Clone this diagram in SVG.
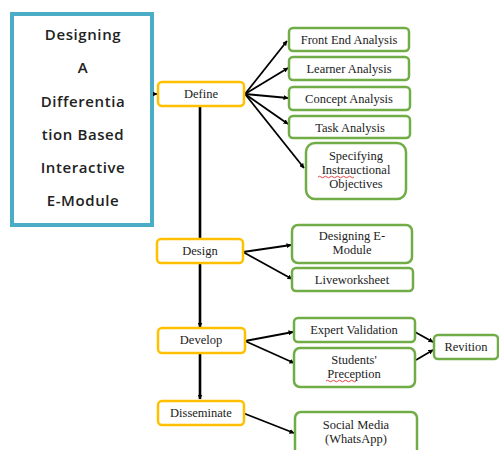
<svg xmlns="http://www.w3.org/2000/svg" width="499" height="450" viewBox="0 0 499 450">
<style>
.title{font-family:"Open Sans","Liberation Sans",sans-serif;font-size:15px;font-weight:600;fill:#222;text-anchor:middle;letter-spacing:0.6px}
.phase{fill:#fff;stroke:#FFC000;stroke-width:2.5}
.box{fill:#fff;stroke:#70AD47;stroke-width:2.5}
.t{font-family:"Liberation Serif","Times New Roman",serif;font-size:12.5px;fill:#222;text-anchor:middle}
.c{stroke:#000;stroke-width:1.8;fill:none}
.v{stroke:#000;stroke-width:2.6;fill:none}
.wavy{stroke:#e03030;stroke-width:0.9;fill:none}
</style>
<defs>
<marker id="ah" viewBox="0 0 10 10" refX="9" refY="5" markerWidth="5" markerHeight="5" orient="auto" markerUnits="userSpaceOnUse">
<path d="M0,0 L10,5 L0,10 z" fill="#000"/>
</marker>
</defs>
<rect x="0" y="0" width="499" height="450" fill="#fff"/>

<g id="title">
<rect x="12" y="14" width="140" height="211" fill="#fff" stroke="#4BACC6" stroke-width="4"/>
<text class="title" x="83" y="40">Designing</text>
<text class="title" x="83" y="73">A</text>
<text class="title" x="83" y="107">Differentia</text>
<text class="title" x="83" y="140">tion Based</text>
<text class="title" x="83" y="173">Interactive</text>
<text class="title" x="83" y="206">E-Module</text>
</g>

<g id="connectors">
<line class="c" x1="153" y1="94" x2="157" y2="94" marker-end="url(#ah)"/>
<line class="v" x1="200" y1="106" x2="200" y2="238"/>
<line class="v" x1="200" y1="263" x2="200" y2="327" marker-end="url(#ah)"/>
<line class="v" x1="200" y1="353" x2="200" y2="399" marker-end="url(#ah)"/>
<line class="c" x1="245" y1="94" x2="287" y2="41" marker-end="url(#ah)"/>
<line class="c" x1="245" y1="94" x2="288" y2="68" marker-end="url(#ah)"/>
<line class="c" x1="245" y1="94" x2="288" y2="98" marker-end="url(#ah)"/>
<line class="c" x1="245" y1="94" x2="288" y2="124" marker-end="url(#ah)"/>
<line class="c" x1="245" y1="94" x2="304" y2="168" marker-end="url(#ah)"/>
<line class="c" x1="243" y1="252" x2="291" y2="245" marker-end="url(#ah)"/>
<line class="c" x1="243" y1="252" x2="292" y2="279" marker-end="url(#ah)"/>
<line class="c" x1="245" y1="341" x2="293" y2="332" marker-end="url(#ah)"/>
<line class="c" x1="245" y1="341" x2="294" y2="363" marker-end="url(#ah)"/>
<line class="c" x1="243" y1="413" x2="294" y2="433" marker-end="url(#ah)"/>
<line class="c" x1="415" y1="332" x2="433" y2="342" marker-end="url(#ah)"/>
<line class="c" x1="416" y1="360" x2="433" y2="350" marker-end="url(#ah)"/>
</g>

<g id="define">
<rect class="phase" x="158" y="82" width="86" height="24" rx="4"/>
<text class="t" x="201" y="98">Define</text>
</g>
<g id="design">
<rect class="phase" x="157" y="239" width="86" height="24" rx="4"/>
<text class="t" x="200" y="255">Design</text>
</g>
<g id="develop">
<rect class="phase" x="158" y="328" width="87" height="25" rx="4"/>
<text class="t" x="201" y="344">Develop</text>
</g>
<g id="disseminate">
<rect class="phase" x="158" y="401" width="86" height="24" rx="4"/>
<text class="t" x="201" y="417">Disseminate</text>
</g>

<g id="front-end">
<rect class="box" x="289" y="28" width="120" height="23" rx="4"/>
<text class="t" x="349" y="44">Front End Analysis</text>
</g>
<g id="learner">
<rect class="box" x="289" y="57" width="120" height="23" rx="4"/>
<text class="t" x="349" y="73">Learner Analysis</text>
</g>
<g id="concept">
<rect class="box" x="289" y="87" width="121" height="23" rx="4"/>
<text class="t" x="349" y="103">Concept Analysis</text>
</g>
<g id="task">
<rect class="box" x="289" y="116" width="121" height="22" rx="4"/>
<text class="t" x="350" y="132">Task Analysis</text>
</g>
<g id="objectives">
<rect class="box" x="306" y="143" width="100" height="56" rx="9"/>
<text class="t" x="356" y="160">Specifying</text>
<text class="t" x="356" y="174">Instrauctional</text>
<path class="wavy" d="M318,177 q1.5,-1.5 3,0 t3,0 t3,0 t3,0 t3,0 t3,0 t3,0 t3,0 t3,0 t3,0 t3,0 t3,0"/>
<text class="t" x="356" y="188">Objectives</text>
</g>
<g id="designing-emodule">
<rect class="box" x="292" y="225" width="120" height="38" rx="6"/>
<text class="t" x="352" y="240">Designing E-</text>
<text class="t" x="352" y="254">Module</text>
</g>
<g id="liveworksheet">
<rect class="box" x="292" y="268" width="121" height="23" rx="4"/>
<text class="t" x="352" y="284">Liveworksheet</text>
</g>
<g id="expert">
<rect class="box" x="294" y="318" width="121" height="24" rx="4"/>
<text class="t" x="354" y="334">Expert Validation</text>
</g>
<g id="students">
<rect class="box" x="294" y="348" width="121" height="39" rx="6"/>
<text class="t" x="354" y="364">Students'</text>
<text class="t" x="354" y="378">Preception</text>
<path class="wavy" d="M326,381 q1.5,-1.5 3,0 t3,0 t3,0 t3,0 t3,0 t3,0 t3,0 t3,0 t3,0 t3,0"/>
</g>
<g id="revition">
<rect class="box" x="434" y="335" width="64" height="24" rx="4"/>
<text class="t" x="466" y="351">Revition</text>
</g>
<g id="social-media">
<rect class="box" x="295" y="412" width="122" height="44" rx="6"/>
<text class="t" x="356" y="429">Social Media</text>
<text class="t" x="356" y="443">(WhatsApp)</text>
</g>
</svg>
